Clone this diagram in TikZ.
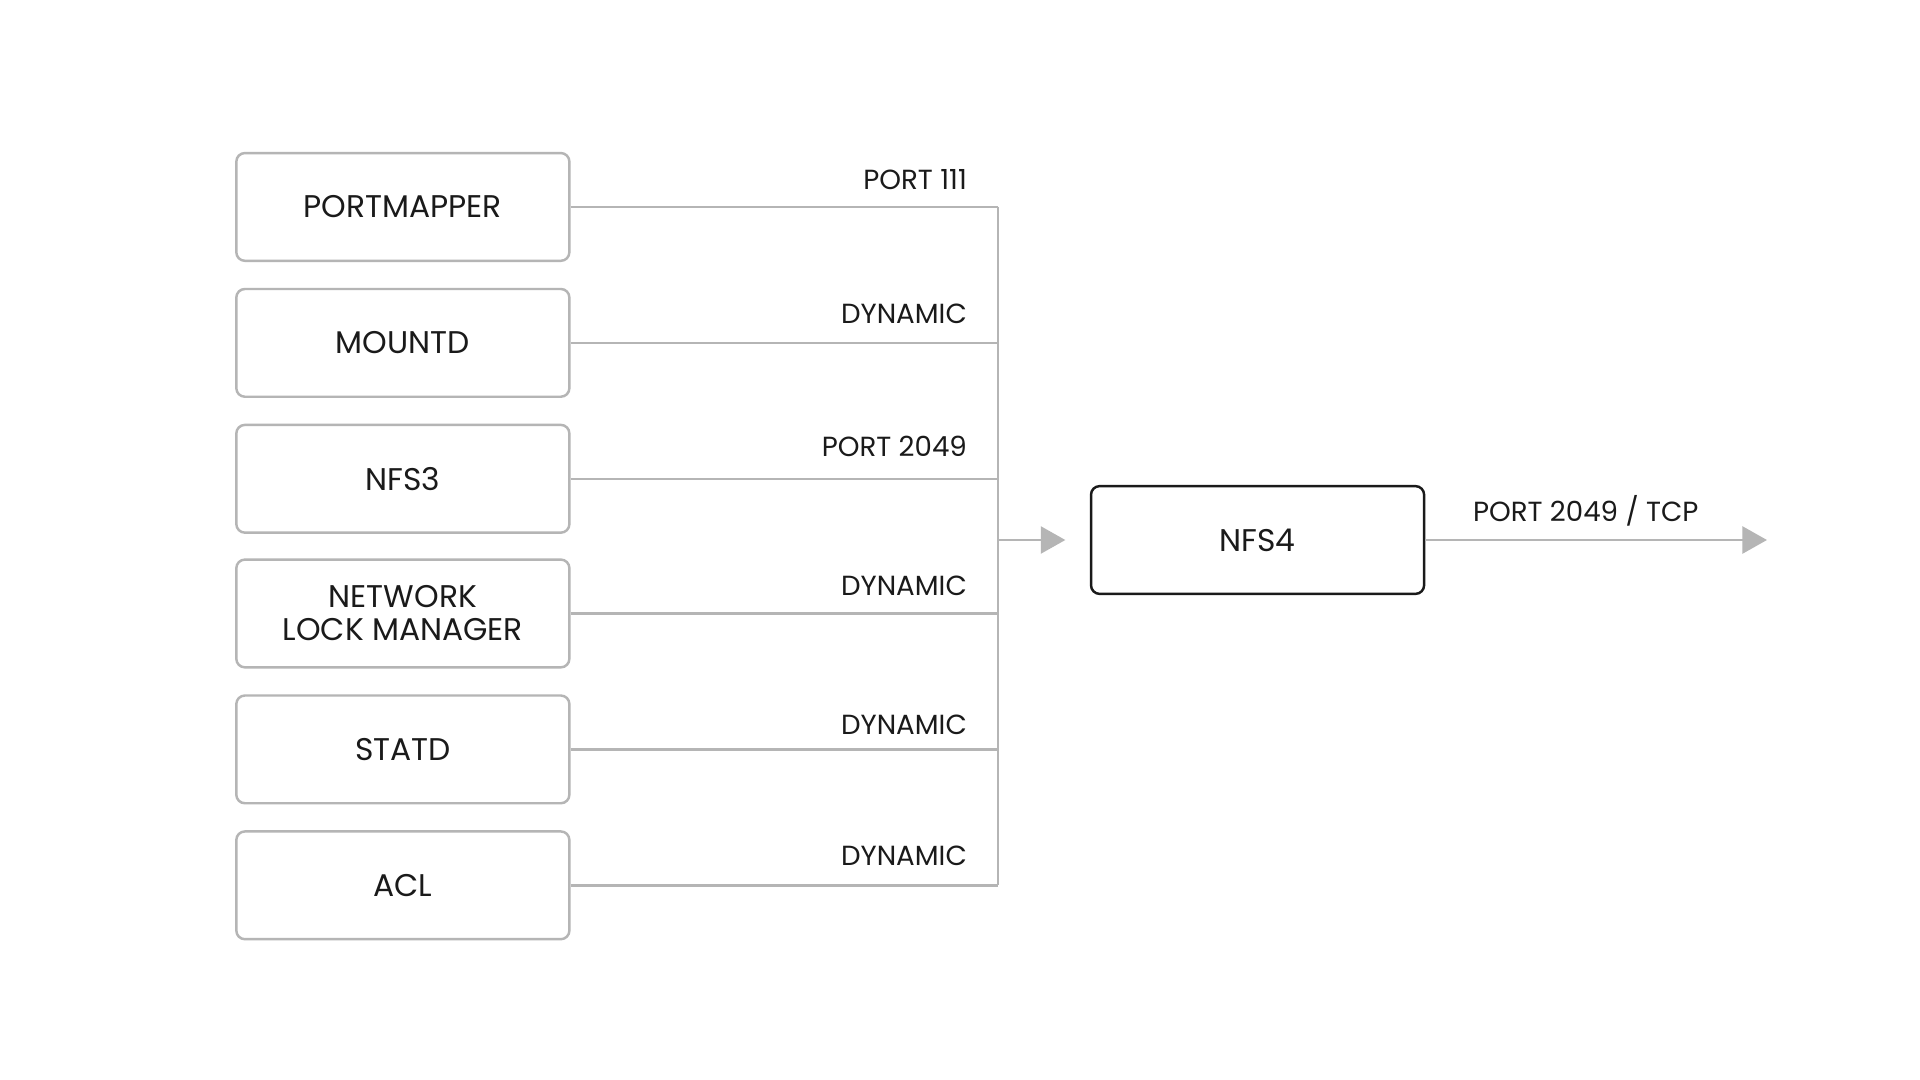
\documentclass[tikz,border=0pt]{standalone}
\usepackage{fontspec}
\setmainfont{Poppins}
\usetikzlibrary{arrows.meta}
\definecolor{gr}{HTML}{B5B5B5}
\definecolor{tx}{HTML}{1A1A1A}
\begin{document}
\begin{tikzpicture}[x=0.5pt,y=-0.5pt,
  box/.style={draw=gr,line width=1pt,rounded corners=3.5pt,minimum width=136pt,minimum height=44pt,inner sep=0pt,font=\fontsize{12.8}{13.5}\selectfont,text=tx,align=center},
  con/.style={draw=gr,line width=1pt},
  lab/.style={font=\fontsize{11.3}{12}\selectfont,text=tx,anchor=south east,inner sep=0pt},
  arr/.style={con,-{Triangle[length=10pt,width=11pt]}}]
\fill[white] (0,0) rectangle (1568,882);
\node[box] (a) at (329,169) {PORTMAPPER};
\node[box] (b) at (329,280) {MOUNTD};
\node[box] (c) at (329,391) {NFS3};
\node[box] (d) at (329,501) {NETWORK\\LOCK MANAGER};
\node[box] (e) at (329,612) {STATD};
\node[box] (f) at (329,723) {ACL};
\node[box,draw=tx] (n) at (1027,441) {NFS4};
\coordinate (top) at (815,169);
\coordinate (bot) at (815,723);
\coordinate (j) at (815,441);
\coordinate (out) at (1443,441);
\foreach \s/\y in {a/169,b/280,c/391,d/501,e/612,f/723}
  \draw[con] (\s.east) -- (815,\y);
\draw[con] (top) -- (bot);
\draw[arr,shorten >=10pt] (j) -- (n.west);
\draw[arr] (n.east) -- (out);
\node[lab] at (790,155) {PORT 111};
\node[lab] at (790,265) {DYNAMIC};
\node[lab] at (790,373) {PORT 2049};
\node[lab] at (790,487) {DYNAMIC};
\node[lab] at (790,600) {DYNAMIC};
\node[lab] at (790,707) {DYNAMIC};
\node[lab,anchor=south] at (1295,430) {PORT 2049 / TCP};
\end{tikzpicture}
\end{document}
